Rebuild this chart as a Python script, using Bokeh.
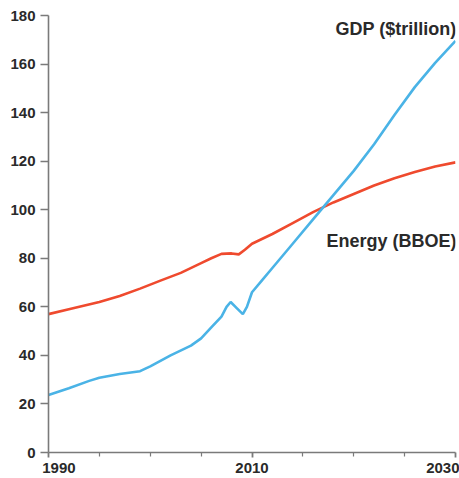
from bokeh.plotting import figure
from bokeh.models import Range1d, FixedTicker, Label
from bokeh.embed import file_html
from bokeh.resources import INLINE

# ---- data ----
gdp_years = [1990, 1992, 1994, 1995, 1997, 1999, 2000, 2002, 2004, 2005, 2006, 2007,
             2007.5, 2007.9, 2008.5, 2009.1, 2009.5, 2010, 2011, 2012, 2014, 2016,
             2018, 2020, 2022, 2024, 2026, 2028, 2030]
gdp = [23.7, 26.5, 29.5, 30.8, 32.3, 33.5, 35.5, 40, 44, 47, 51.5, 56,
       60, 62, 59.5, 57, 60, 66, 71, 76, 86, 96,
       106, 116, 127, 139, 150.5, 160.5, 169.5]

energy_years = [1990, 1992, 1995, 1997, 1999, 2001, 2003, 2005, 2006, 2007, 2008,
                2008.7, 2009.3, 2010, 2012, 2014, 2016, 2018, 2020, 2022, 2024,
                2026, 2028, 2030]
energy = [57, 59, 62, 64.5, 67.5, 70.8, 74, 78, 80, 81.8, 82,
          81.6, 83.5, 86, 90, 94.5, 99, 103, 106.5, 110, 113,
          115.5, 117.8, 119.5]

x_tick_labels = [1990, 2010, 2030]
x_minor = [1995, 2000, 2005, 2015, 2020, 2025]
y_ticks = [0, 20, 40, 60, 80, 100, 120, 140, 160, 180]

FONT = "Liberation Sans"
AXIS_COL = "#7a7a7a"
TXT_COL = "#2a2a2a"
NB = "\u00a0"

p = figure(width=459, height=478, output_backend="svg", toolbar_location=None,
           x_range=Range1d(1990, 2030), y_range=Range1d(0, 180),
           min_border_left=48, min_border_right=4, min_border_top=15,
           min_border_bottom=23)
p.outline_line_color = None
p.grid.visible = False

p.line(energy_years, energy, line_color="#ef4a2e", line_width=2.6)
p.line(gdp_years, gdp, line_color="#4ab3e6", line_width=2.6)

# axes
xa = p.xaxis[0]
xa.ticker = FixedTicker(ticks=x_tick_labels, minor_ticks=x_minor)
xa.axis_line_color = AXIS_COL
xa.axis_line_width = 1.6
xa.major_tick_line_color = AXIS_COL
xa.major_tick_line_width = 1.8
xa.minor_tick_line_color = AXIS_COL
xa.minor_tick_line_width = 1.2
xa.major_tick_in = 0
xa.major_tick_out = 5
xa.minor_tick_in = 0
xa.minor_tick_out = 4
xa.major_label_standoff = 1
xa.major_label_text_font = FONT
xa.major_label_text_font_style = "bold"
xa.major_label_text_font_size = "15px"
xa.major_label_text_color = TXT_COL
# first label sits to the right of its tick, as in the original
xa.major_label_overrides = {1990: NB * 5 + "1990"}

ya = p.yaxis[0]
ya.ticker = FixedTicker(ticks=y_ticks, minor_ticks=[])
ya.axis_line_color = AXIS_COL
ya.axis_line_width = 1.6
ya.major_tick_line_color = AXIS_COL
ya.major_tick_line_width = 1.6
ya.major_tick_in = 0
ya.major_tick_out = 8
ya.minor_tick_out = 0
ya.minor_tick_in = 0
ya.major_label_standoff = 5
ya.major_label_text_font = FONT
ya.major_label_text_font_style = "bold"
ya.major_label_text_font_size = "15px"
ya.major_label_text_color = TXT_COL

# series labels
p.add_layout(Label(x=2030, y=174.5, text="GDP ($trillion)", text_align="right",
                   text_baseline="middle", x_offset=1, text_font=FONT,
                   text_font_style="bold", text_font_size="18px",
                   text_color=TXT_COL))
p.add_layout(Label(x=2030, y=87.3, text="Energy (BBOE)", text_align="right",
                   text_baseline="middle", x_offset=1, text_font=FONT,
                   text_font_style="bold", text_font_size="18px",
                   text_color=TXT_COL))

open("out.html", "w").write(file_html(p, INLINE))
